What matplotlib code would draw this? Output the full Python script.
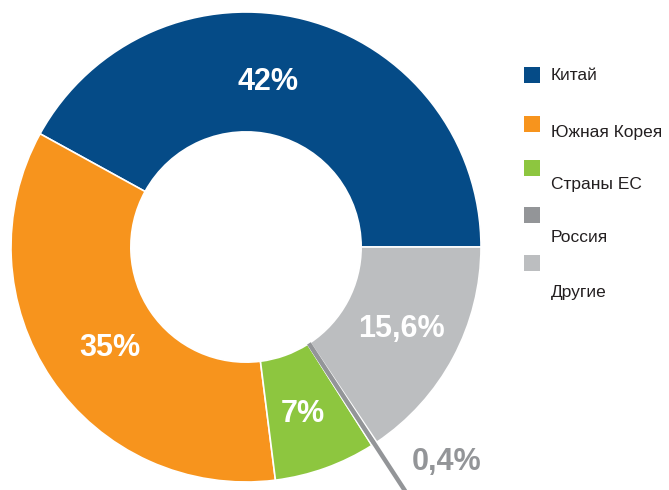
import matplotlib.pyplot as plt
import numpy as np

labels = ["Китай", "Южная Корея", "Страны ЕС", "Россия", "Другие"]
shares = [42, 35, 7, 0.4, 15.6]
share_text = ["42%", "35%", "7%", "0,4%", "15,6%"]
colors = ["#054b87", "#f7941d", "#8dc63f", "#939598", "#bcbec0"]

W, H = 669, 490
fig = plt.figure(figsize=(W / 100, H / 100), dpi=100)
ax = fig.add_axes([0, 0, 1, 1])

cx, cy, R = 246, 243, 235
hole = 0.49

wedges, _ = ax.pie(shares, colors=colors, startangle=0, counterclock=True,
                   center=(cx, cy), radius=R, frame=True,
                   wedgeprops=dict(width=R * (1 - hole), edgecolor="white", linewidth=1.2))
ax.set_xlim(0, W)
ax.set_ylim(0, H)
ax.set_aspect("equal")
ax.axis("off")

# leader strip for the tiny slice
w = wedges[3]
mid = np.deg2rad((w.theta1 + w.theta2) / 2)
r0, r1 = R * hole, R * 1.25
ax.plot([cx + r0 * np.cos(mid), cx + r1 * np.cos(mid)],
        [cy + r0 * np.sin(mid), cy + r1 * np.sin(mid)],
        color=colors[3], lw=3.2, solid_capstyle="butt", zorder=3)

# percent labels (offsets from centre in radius units)
label_pos = [(0.094, 0.70), (-0.58, -0.43), (0.24, -0.71), (0.855, -0.915), (0.66, -0.35)]
label_col = ["white", "white", "white", colors[3], "white"]
for t, (dx, dy), c in zip(share_text, label_pos, label_col):
    ax.text(cx + dx * R, cy + dy * R, t, color=c, fontsize=22, fontweight="bold",
            family=["Liberation Sans", "DejaVu Sans"], ha="center", va="center")

# legend drawn by hand
box_y = [75, 124, 168, 215, 263]
text_y = [76, 132, 185, 238, 293]
for lab, c, by, ty in zip(labels, colors, box_y, text_y):
    ax.add_patch(plt.Rectangle((524, H - by - 8), 16, 16, color=c, lw=0))
    ax.text(551, H - ty, lab, fontsize=12.5, color="#231f20", va="center", ha="left",
            family=["Liberation Sans", "DejaVu Sans"])

fig.savefig("out.png", dpi=100)
